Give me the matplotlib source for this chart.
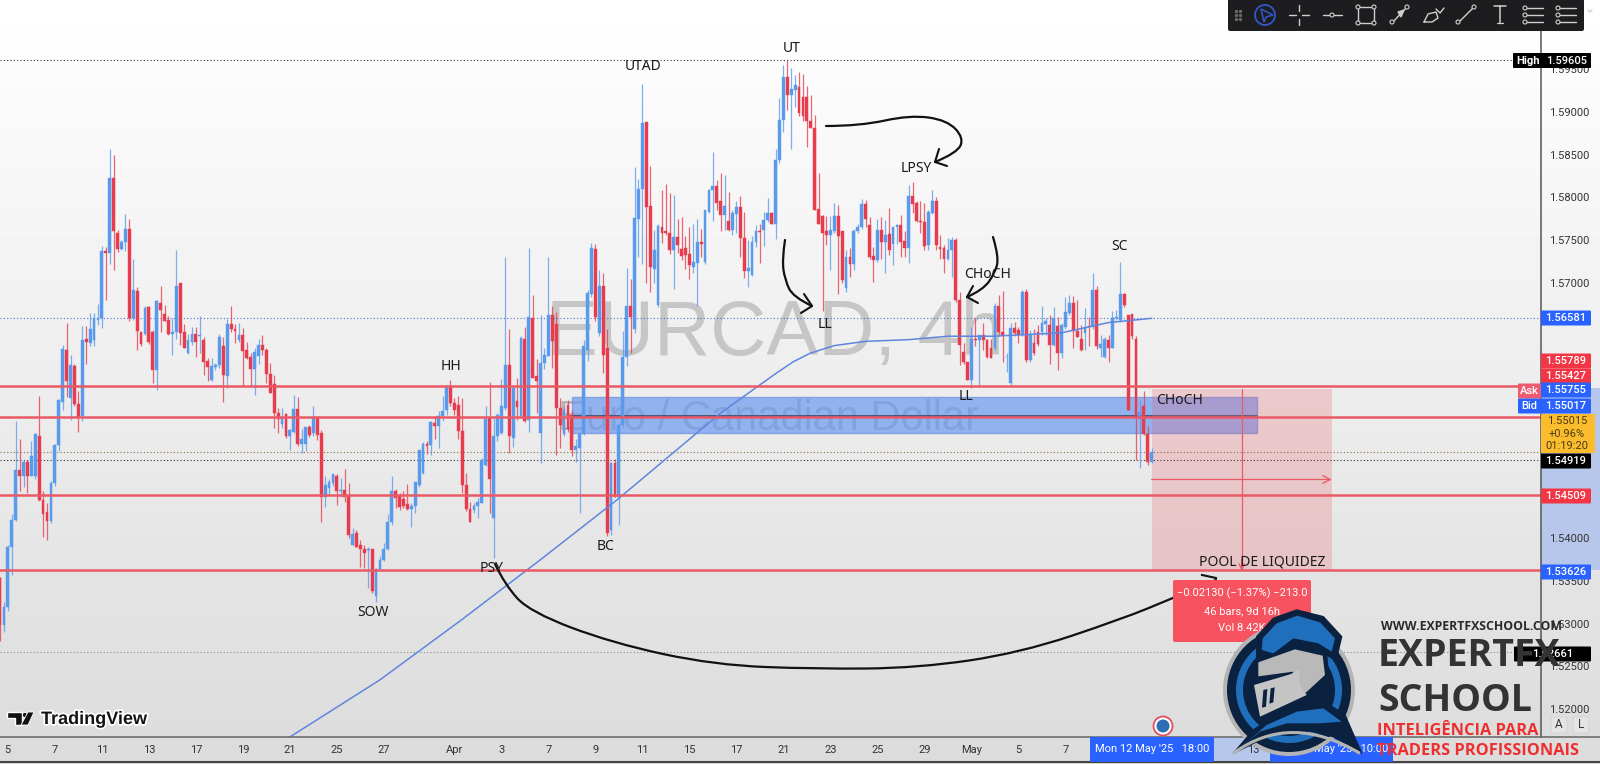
import numpy as np
import matplotlib; matplotlib.use("Agg"); import matplotlib.pyplot as plt
from matplotlib.patches import Rectangle, Circle, Polygon, FancyBboxPatch, PathPatch
from matplotlib.path import Path
import matplotlib.patheffects as pe
plt.rcParams['font.family'] = ['Roboto', 'DejaVu Sans']
BLUE="#5a9aec"; RED="#e73c4e"; LINE="#ea5a66"; TAGRED="#f23645"; TAGBLUE="#2962ff"; INK="#1c1c1c"; NAVY="#0b2140"; LOGO="#1f6fbd"; STEEL="#b4b4b4"

# prices are in 1e-4 units
opens=[15353,15298,15320,15390,15422,15480,15473,15490,15473,15473,
15520,15445,15431,15420,15465,15510,15560,15621,15565,15602,
15558,15543,15634,15629,15632,15656,15658,15737,15735,15822,
15758,15739,15748,15763,15658,15690,15642,15640,15671,15642,
15597,15676,15663,15656,15640,15642,15699,15642,15617,15630,
15640,15637,15632,15608,15586,15601,15603,15625,15590,15651,
15645,15632,15639,15621,15613,15598,15614,15627,15621,15593,
15581,15547,15534,15546,15520,15525,15552,15511,15511,15531,
15523,15542,15524,15448,15459,15465,15473,15455,15457,15451,
15392,15406,15392,15388,15386,15387,15332,15364,15375,15387,
15419,15455,15451,15446,15440,15434,15438,15463,15477,15511,
15510,15535,15532,15543,15550,15579,15559,15556,15526,15463,
15434,15433,15438,15441,15486,15541,15424,15520,15524,15553,
15603,15518,15561,15543,15634,15539,15658,15590,15524,15606,
15614,15662,15651,15553,15522,15556,15545,15504,15506,15522,
15621,15687,15739,15641,15696,15623,15410,15488,15449,15533,
15613,15672,15646,15775,15810,15888,15790,15716,15674,15765,
15760,15758,15738,15753,15739,15740,15733,15718,15723,15748,
15724,15783,15808,15813,15795,15779,15772,15762,15780,15789,
15752,15713,15709,15747,15760,15762,15773,15782,15769,15844,
15890,15941,15920,15926,15929,15917,15917,15889,15881,15786,
15778,15760,15756,15760,15778,15760,15693,15730,15722,15760,
15765,15792,15767,15731,15726,15761,15748,15757,15745,15765,
15767,15749,15740,15801,15793,15772,15771,15744,15782,15796,
15742,15740,15728,15738,15750,15679,15619,15607,15586,15634,
15632,15639,15633,15623,15623,15672,15642,15613,15582,15647,
15644,15639,15689,15609,15629,15642,15642,15651,15650,15627,
15649,15617,15648,15664,15676,15643,15634,15641,15649,15648,
15691,15623,15613,15633,15623,15658,15656,15687,15662,15663,
15634,15540,15555,15522,15490]
highs=[15355,15325,15392,15428,15538,15516,15492,15492,15514,15524,
15567,15455,15441,15467,15511,15563,15627,15653,15615,15605,
15573,15649,15649,15664,15664,15675,15743,15742,15857,15849,
15762,15750,15780,15774,15728,15695,15642,15672,15672,15644,
15680,15696,15674,15661,15658,15738,15700,15651,15640,15648,
15648,15661,15636,15611,15611,15606,15640,15636,15657,15672,
15651,15653,15647,15630,15617,15623,15634,15638,15623,15606,
15591,15553,15553,15547,15528,15568,15566,15528,15531,15533,
15555,15542,15527,15473,15469,15475,15475,15471,15481,15465,
15412,15410,15398,15392,15390,15388,15365,15379,15394,15428,
15473,15458,15453,15455,15464,15441,15466,15503,15513,15514,
15537,15543,15549,15567,15580,15586,15565,15567,15565,15477,
15443,15441,15447,15494,15555,15583,15541,15547,15587,15730,
15646,15577,15588,15637,15648,15740,15685,15610,15662,15623,
15730,15672,15665,15565,15555,15562,15551,15516,15524,15632,
15691,15746,15745,15715,15711,15646,15489,15493,15535,15643,
15717,15704,15836,15821,15933,15888,15837,15762,15769,15808,
15816,15805,15803,15774,15777,15754,15765,15769,15775,15763,
15785,15810,15853,15820,15829,15826,15806,15785,15795,15801,
15783,15750,15754,15767,15769,15783,15799,15783,15857,15916,
15955,15960.5,15951,15943,15947,15945,15930,15920,15897,15828,
15779,15778,15778,15793,15791,15760,15738,15740,15763,15769,
15798,15797,15777,15742,15775,15777,15773,15787,15765,15769,
15779,15760,15814,15818,15795,15795,15793,15785,15809,15800,
15756,15744,15752,15753,15752,15689,15629,15607,15648,15658,
15638,15652,15634,15634,15676,15685,15690,15617,15652,15654,
15648,15691,15692,15644,15646,15650,15672,15658,15662,15671,
15660,15652,15683,15685,15684,15680,15650,15670,15660,15711,
15696,15638,15636,15638,15666,15668,15724,15688,15662,15663,
15637,15562,15573,15532,15506]
lows=[15280,15290,15315,15357,15420,15455,15460,15453,15473,15470,
15444,15402,15398,15418,15461,15502,15550,15566,15539,15555,
15525,15537,15605,15625,15625,15650,15647,15679,15722,15715,
15736,15738,15737,15655,15656,15621,15626,15639,15628,15582,
15574,15642,15655,15639,15615,15634,15627,15623,15616,15627,
15613,15617,15591,15584,15585,15597,15600,15560,15576,15642,
15629,15630,15579,15610,15579,15568,15605,15615,15582,15570,
15529,15523,15529,15518,15504,15524,15508,15500,15502,15519,
15520,15515,15419,15437,15451,15461,15439,15449,15443,15400,
15392,15390,15366,15365,15342,15336,15325,15363,15373,15386,
15416,15435,15433,15436,15433,15413,15430,15460,15476,15499,
15498,15516,15506,15537,15545,15555,15545,15517,15453,15432,
15419,15430,15424,15441,15485,15430,15377,15514,15522,15551,
15500,15507,15539,15541,15536,15525,15588,15547,15488,15598,
15614,15600,15498,15506,15520,15525,15496,15490,15430,15521,
15608,15683,15655,15637,15594,15403,15404,15449,15416,15531,
15602,15617,15641,15730,15722,15700,15689,15700,15671,15746,
15756,15734,15692,15735,15726,15716,15704,15711,15672,15730,
15722,15781,15772,15785,15760,15762,15760,15756,15758,15730,
15705,15695,15708,15742,15723,15743,15771,15769,15751,15840,
15877,15902,15857,15906,15895,15889,15859,15881,15785,15769,
15666,15744,15715,15758,15687,15700,15689,15707,15715,15758,
15763,15765,15727,15701,15724,15727,15711,15732,15721,15745,
15730,15730,15723,15781,15771,15758,15738,15738,15780,15738,
15728,15711,15726,15707,15677,15603,15605,15586,15576,15625,
15578,15621,15611,15611,15621,15637,15607,15595,15580,15637,
15629,15637,15607,15607,15615,15625,15638,15638,15605,15625,
15597,15611,15646,15662,15623,15636,15620,15621,15625,15646,
15622,15613,15611,15607,15623,15656,15654,15671,15550,15634,
15492,15482,15521,15486,15488]
closes=[15298,15320,15390,15422,15480,15473,15490,15473,15497,15522,
15445,15428,15420,15465,15510,15562,15622,15584,15603,15557,
15542,15633,15630,15645,15658,15658,15737,15735,15822,15760,
15739,15748,15763,15658,15691,15643,15628,15670,15630,15597,
15678,15668,15655,15640,15642,15696,15641,15623,15632,15640,
15630,15639,15607,15601,15602,15603,15636,15591,15651,15645,
15643,15639,15620,15611,15598,15618,15627,15621,15593,15571,
15547,15540,15542,15520,15527,15552,15511,15516,15530,15521,
15542,15521,15449,15463,15466,15475,15455,15457,15449,15404,
15405,15390,15387,15383,15387,15338,15364,15375,15387,15419,
15455,15447,15437,15438,15434,15438,15466,15503,15511,15508,
15536,15532,15543,15549,15579,15559,15550,15526,15463,15434,
15419,15438,15443,15492,15540,15469,15520,15545,15555,15603,
15520,15576,15554,15635,15537,15659,15588,15584,15606,15615,
15662,15631,15553,15533,15551,15528,15504,15508,15522,15625,
15688,15740,15660,15696,15615,15406,15488,15449,15533,15613,
15672,15660,15776,15810,15887,15788,15718,15738,15766,15758,
15758,15738,15753,15744,15731,15732,15720,15724,15748,15745,
15785,15808,15813,15793,15779,15790,15762,15781,15789,15752,
15713,15717,15747,15760,15759,15773,15782,15769,15844,15890,
15941,15920,15927,15932,15899,15895,15889,15881,15785,15769,
15758,15756,15762,15778,15754,15703,15730,15722,15760,15765,
15792,15774,15730,15726,15761,15748,15756,15738,15765,15767,
15748,15740,15801,15792,15772,15771,15743,15783,15796,15744,
15739,15728,15738,15750,15679,15627,15607,15586,15634,15632,
15638,15633,15613,15612,15672,15642,15639,15613,15647,15641,
15639,15689,15609,15638,15617,15628,15652,15655,15627,15658,
15617,15650,15665,15676,15643,15636,15621,15648,15648,15691,
15625,15628,15634,15623,15658,15659,15687,15674,15551,15637,
15543,15548,15522,15490,15501]

ma_bars=[74,97,118,138,157.5,184,194,198.3,202.5,206.8,213,221,232,242,253.5,271,283,294]
ma_vals=[1.5167,1.5234,1.5305,1.5375,1.5445,1.5547,1.5580,1.5594,1.5607,1.5617,1.5626,1.5631,1.5633,1.5637,1.5637,1.5641,1.5653,1.5658]
level_reds=[1.55789,1.55427,1.54509,1.53626]
dot_levels=[1.59605,1.56581,1.55015,1.54919,1.52661]
dot_colors=["#333333","#4a6fd0","#8a6a4a","#333333","#888888"]
price_ticks=[1.595,1.59,1.585,1.58,1.575,1.57,1.54,1.535,1.53,1.525,1.52]
tick_bars=[2,14,26,38,50,62,74,86,98,116,128,140,152,164,176,188,200,212,224,236,248,260,272,320]
tick_labels=["5","7","11","13","17","19","21","25","27","Apr","3","7","9","11","15","17","21","23","25","29","May","5","7","13"]

o=np.array(opens)/1e4; h=np.array(highs)/1e4; l=np.array(lows)/1e4; c=np.array(closes)/1e4
x=np.arange(len(o)); up=c>=o; cols=np.where(up,BLUE,RED)

fig=plt.figure(figsize=(16,7.64),dpi=100)
W,H=1600,764
# background gradient, right scale + time highlight
bg=fig.add_axes([0,0,1,1],zorder=0); bg.axis("off")
bg.imshow(np.linspace(1,0,200).reshape(-1,1)*0.14+0.86,cmap="gray",vmin=0,vmax=1,extent=(0,W,H,0),aspect="auto")
bg.set_xlim(0,W); bg.set_ylim(H,0)
bg.add_patch(Rectangle((1541,388),59,182,color="#b7c7ec",lw=0))
bg.add_patch(Rectangle((1214,737),146,25,color="#b7c7ec",lw=0))

ax=fig.add_axes([0,(H-737)/H,1541/W,737/H],zorder=1); ax.patch.set_alpha(0)
ax.set_xlim(0,1541/3.917); ax.set_ylim(1.5167,1.60313)
for s in ax.spines.values(): s.set_visible(False)
ax.yaxis.tick_right(); ax.set_yticks(price_ticks,[f"{p:.5f}" for p in price_ticks])
ax.set_xticks(tick_bars,tick_labels)
ax.tick_params(axis="y",length=0,pad=6,labelsize=8,labelcolor="#333333")
ax.tick_params(axis="x",length=0,pad=6,labelsize=8,labelcolor="#333333")

ax.text(0.354,0.518,"EURCAD, 4h",transform=ax.transAxes,fontsize=56,color="#c6c6c6",family="Liberation Sans",va="baseline",zorder=0.5)
ax.text(0.362,0.4166,"Euro / Canadian Dollar",transform=ax.transAxes,fontsize=30,color="#b4b4b4",family="Liberation Sans",va="baseline",zorder=0.5)

ax.add_patch(Rectangle((146,1.5524),175,0.0042,fc="#6f9cf0",ec="#6f8fdc",lw=1,alpha=0.72,zorder=1))
ax.plot([146,321],[1.5544,1.5544],color="#35405e",lw=1.1,zorder=1.1)
ax.add_patch(Rectangle((294,1.53625),46,0.0213,color=LINE,alpha=0.24,lw=0,zorder=1.2))
ax.plot([317,317],[1.53625,1.55755],color=LINE,lw=0.9,zorder=1.3)
ax.annotate("",xy=(340,1.5469),xytext=(294,1.5469),arrowprops=dict(arrowstyle="->",color=LINE,lw=0.9,mutation_scale=14,shrinkA=0,shrinkB=0),zorder=1.3)
ax.annotate("",xy=(317,1.5362),xytext=(317,1.5375),arrowprops=dict(arrowstyle="->",color=LINE,lw=0.9,shrinkA=0,shrinkB=0),zorder=1.3)

for lv,col in zip(dot_levels,dot_colors):
    ax.axhline(lv,color=col,lw=0.8,ls=(0,(1,2)),zorder=1.4)

ax.vlines(x,l,h,colors=cols,lw=0.9,alpha=0.78,zorder=2)
ax.bar(x,np.abs(c-o),bottom=np.minimum(o,c),width=0.72,color=cols,edgecolor=cols,lw=0.3,zorder=2.1)
ax.plot(ma_bars,ma_vals,color="#5f86dd",lw=1.1,zorder=2.2)
for lv in level_reds:
    ax.axhline(lv,color=LINE,lw=1.8,zorder=2.5)

# everything below lives on a pixel overlay
ov=fig.add_axes([0,0,1,1],zorder=2); ov.axis("off"); ov.patch.set_alpha(0)
ov.set_xlim(0,W); ov.set_ylim(H,0)
ov.plot([1541,1541],[0,737],color="#555555",lw=1.1)
ov.plot([0,W],[737,737],color="#666666",lw=1.1)
ov.plot([0,W],[762,762],color="#444444",lw=1.5)

def smooth(pts,lw=1.6):
    pts=np.array(pts,float); verts=[pts[0]]; codes=[Path.MOVETO]
    for i in range(1,len(pts)-1):
        verts+= [pts[i],(pts[i]+pts[i+1])/2 if i<len(pts)-2 else pts[i+1]]; codes+=[Path.CURVE3,Path.CURVE3]
    ov.add_patch(PathPatch(Path(verts,codes),fc="none",ec="#111111",lw=lw,capstyle="round",zorder=2))
def head(pts):
    ov.plot(*zip(*pts),color="#111111",lw=1.5,solid_capstyle="round",zorder=2)
smooth([(826,126),(860,126),(910,115),(947,120),(964,138),(957,153),(935,162)]); head([(939,149),(935,162),(947,166)])
smooth([(785,240),(782,260),(785,280),(793,297),(812,306)]); head([(804,294),(812,306),(801,313)])
smooth([(993,237),(999,257),(995,273),(983,290),(967,297)]); head([(973,286),(967,297),(978,303)])
smooth([(495,564),(505,585),(530,612),(612,643),(714,665),(816,669),(918,668),(1020,653),(1122,619),(1173,598),(1216,580)])
ov.plot([1202,1216],[575,578],color="#111111",lw=1.5,zorder=2)

notes=[("UT",792,49),("UTAD",643,66),("HH",451,366),("LPSY",916,168),("LL",825,325),("CHoCH",988,274),("SC",1119,247),
       ("LL",966,397),("CHoCH",1180,401),("PSY",492,568),("BC",606,547),("SOW",373,613),("POOL DE LIQUIDEZ",1262,562)]
for t,tx,ty in notes:
    ov.text(tx,ty,t,ha="center",va="center",fontsize=10,color="#1a1a1a",family="Noto Sans",zorder=3)

def tag(txt,y,col,fg="white",x0=1541,x1=1591,h=15):
    ov.add_patch(FancyBboxPatch((x0+1,y-h/2+1),x1-x0-2,h-2,boxstyle="round,pad=1",fc=col,ec="none",zorder=4))
    ov.text((x0+x1)/2,y,txt,ha="center",va="center",fontsize=8,color=fg,weight="medium",zorder=4.1)
tag("1.55789",361,TAGRED); tag("1.55427",376,TAGRED); tag("1.55755",390,TAGBLUE); tag("1.55017",406,TAGBLUE)
tag("Ask",391,"#ee5a70",x0=1518,x1=1541); tag("Bid",406,TAGBLUE,x0=1518,x1=1541)
ov.add_patch(FancyBboxPatch((1542,415),52,37,boxstyle="round,pad=1",fc="#fbbc2d",ec="none",zorder=4))
for t,ty in [("1.55015",421),("+0.96%",434),("01:19:20",446)]:
    ov.text(1567,ty,t,ha="center",va="center",fontsize=8,color="#4a3a10",zorder=4.1)
tag("1.54919",461,"#000000"); tag("1.54509",496,TAGRED); tag("1.53626",572,TAGBLUE); tag("1.56581",318,TAGBLUE)
tag("1.52661",654,"#000000",x0=1514)
ov.add_patch(FancyBboxPatch((1514,54),76,13,boxstyle="round,pad=1",fc="#000000",ec="none",zorder=4))
ov.text(1516,60.5,"High",ha="left",va="center",fontsize=8,color="white",weight="bold",zorder=4.1)
ov.text(1567,60.5,"1.59605",ha="center",va="center",fontsize=8,color="white",weight="medium",zorder=4.1)

# measure tooltip
ov.add_patch(FancyBboxPatch((1175,582),134,58,boxstyle="round,pad=2",fc="#f7525f",ec="none",zorder=3))
for t,ty in [("−0.02130 (−1.37%) −213.0",593),("46 bars, 9d 16h",611),("Vol 8.42K",628)]:
    ov.text(1242,ty,t,ha="center",va="center",fontsize=8,color="white",zorder=3.1)

# time axis crosshair labels
ov.add_patch(Rectangle((1090,737),124,25,fc=TAGBLUE,ec="none",zorder=3))
ov.text(1152,749,"Mon 12 May '25   18:00",ha="center",va="center",fontsize=8,color="white",zorder=3.1)
ov.add_patch(Rectangle((1270,737),123,25,fc=TAGBLUE,ec="none",zorder=3))
ov.text(1331,749,"Wed 21 May '25   10:00",ha="center",va="center",fontsize=8,color="white",zorder=3.1)

# A / L buttons and the small event icon
for t,bx in [("A",1559),("L",1581)]:
    ov.add_patch(FancyBboxPatch((bx-7,718),14,14,boxstyle="round,pad=1",fc="#e4e4e4",ec="#d2d2d2",lw=0.7,zorder=3))
    ov.text(bx,725,t,ha="center",va="center",fontsize=8.5,color="#333333",zorder=3.1)
ov.add_patch(Circle((1163,726),9.5,fc="white",ec="#e05060",lw=1.3,zorder=3))
ov.add_patch(Circle((1163,726),6.5,fc="#2f6db5",ec="none",zorder=3.1))

# TradingView mark
halo=[pe.withStroke(linewidth=2.5,foreground="white")]
ov.add_patch(Polygon([(7,712),(22,712),(22,725),(15,725),(15,718),(7,718)],fc="#111111",ec="white",lw=1,zorder=3))
ov.add_patch(Circle((25,715),2.6,fc="#111111",ec="white",lw=0.6,zorder=3))
ov.add_patch(Polygon([(28,712),(34,712),(28,725),(21,725)],fc="#111111",ec="white",lw=0.6,zorder=3))
ov.text(41,719.5,"TradingView",ha="left",va="center",fontsize=13,weight="bold",color="#131313",family="Liberation Sans",path_effects=halo,zorder=3)

# toolbar
ov.add_patch(FancyBboxPatch((1230,-6),352,35,boxstyle="round,pad=2",fc="#1d1d20",ec="none",zorder=5))
TB="#cfcfcf"
def tb(xs,ys,lw=1.0,col=TB): ov.plot(xs,ys,color=col,lw=lw,zorder=5.2,solid_capstyle="round")
def node(px,py,r=2): ov.add_patch(Circle((px,py),r,fc="#1d1d20",ec=TB,lw=0.8,zorder=5.3))
for gx in (1236,1240):
    ov.scatter([gx]*3,[11,15,19],s=2,color="#6a6a6a",zorder=5.2)
ov.add_patch(Circle((1265,15),10,fc="none",ec="#3357c8",lw=1.3,zorder=5.2))
ov.add_patch(Polygon([(1261,9),(1273,15),(1266,17),(1264,22)],fc="none",ec="#3357c8",lw=1.1,zorder=5.2))
tb([1289,1296],[15,15]); tb([1302,1309],[15,15]); tb([1299,1299],[5,11]); tb([1299,1299],[19,25])
tb([1323,1342],[15,15]); node(1332,15)
ov.add_patch(Rectangle((1358,7),16,16,fc="none",ec=TB,lw=1,zorder=5.2))
for nx,ny in [(1358,7),(1374,7),(1358,23),(1374,23)]: node(nx,ny)
tb([1392,1407],[23,7]); node(1392,22); node(1407,7)
ov.add_patch(Polygon([(1398,12),(1404,10),(1401,17)],fc=TB,ec=TB,zorder=5.2))
tb([1424,1428,1436,1438,1432,1424],[22,14,12,18,22,22]); tb([1436,1440,1444],[9,13,8])
tb([1458,1474],[23,7]); node(1458,22); node(1474,7)
tb([1494,1506],[6,6],lw=1.1); tb([1500,1500],[6,23],lw=1.1); tb([1497,1503],[23,23],lw=0.9)
for fx in (1525,1558):
    for fy in (8,15,22):
        tb([fx,fx+18],[fy,fy]); node(fx,fy)
tb([1588,1590,1592],[10,12,10])

# school logo
def px(pts): return [(1210+a/3,605+b/3) for a,b in pts]
ov.add_patch(Circle((1289,690),66,fc=STEEL,ec="none",zorder=6))
ov.add_patch(Circle((1289,690),62,fc=NAVY,ec="none",zorder=6.1))
ov.add_patch(Circle((1289,690),53,fc=LOGO,ec="none",zorder=6.2))
ov.add_patch(Circle((1289,690),46,fc=NAVY,ec="none",zorder=6.3))
ov.add_patch(Polygon(px([(140,95),(190,40),(260,15),(340,35),(395,95),(378,165),(330,140),(250,125),(190,170),(140,160)]),fc=NAVY,ec=NAVY,zorder=6.4))
ov.add_patch(Polygon(px([(158,100),(200,55),(262,32),(330,52),(375,100),(365,140),(325,115),(250,100),(190,145),(155,135)]),fc=LOGO,ec="none",zorder=6.5))
ov.add_patch(Polygon(px([(130,170),(255,125),(350,150),(355,210),(285,280),(150,345),(120,240)]),fc=NAVY,ec=NAVY,zorder=6.6))
ov.add_patch(Polygon(px([(145,172),(255,133),(338,152),(345,210),(282,268),(240,232),(250,200),(145,214)]),fc="#b9b9b9",ec="none",zorder=6.7))
ov.add_patch(Polygon(px([(132,240),(240,208),(268,195),(270,240),(290,270),(150,335)]),fc="#c4c4c4",ec="none",zorder=6.7))
ov.add_patch(Polygon(px([(160,255),(172,252),(168,305),(156,308)]),fc=NAVY,ec="none",zorder=6.8))
ov.add_patch(Polygon(px([(182,250),(194,247),(190,292),(178,296)]),fc=NAVY,ec="none",zorder=6.8))
ov.add_patch(Polygon(px([(70,445),(130,375),(240,300),(335,285),(405,330),(455,445),(370,395),(290,375),(190,385),(110,425)]),fc=NAVY,ec=NAVY,zorder=6.9))
ov.add_patch(Polygon(px([(100,420),(170,360),(260,320),(340,310),(395,350),(330,355),(230,355),(150,380)]),fc=LOGO,ec="none",zorder=7))
smooth_arc=Path(px([(70,445),(240,320),(450,445)]),[Path.MOVETO,Path.CURVE3,Path.CURVE3])
ov.add_patch(PathPatch(smooth_arc,fc="none",ec=STEEL,lw=2.2,zorder=7.1))

BOLD="Open Sans"
ov.text(1381,627,"WWW.EXPERTFXSCHOOL.COM",ha="left",va="center",fontsize=8.8,weight="bold",family=BOLD,color="#2a2a2a",zorder=8)
ov.text(1378,656,"EXPERTFX",ha="left",va="center",fontsize=27,weight="bold",family=BOLD,color="#333333",zorder=8)
ov.text(1378,701,"SCHOOL",ha="left",va="center",fontsize=27,weight="bold",family=BOLD,color="#333333",zorder=8)
ov.text(1377,731,"INTELIGÊNCIA PARA",ha="left",va="center",fontsize=11.8,weight="bold",family=BOLD,color="#ef2f2f",zorder=8)
ov.text(1377,751,"TRADERS PROFISSIONAIS",ha="left",va="center",fontsize=11.8,weight="bold",family=BOLD,color="#ef2f2f",zorder=8)

fig.savefig("out.png",dpi=100)
